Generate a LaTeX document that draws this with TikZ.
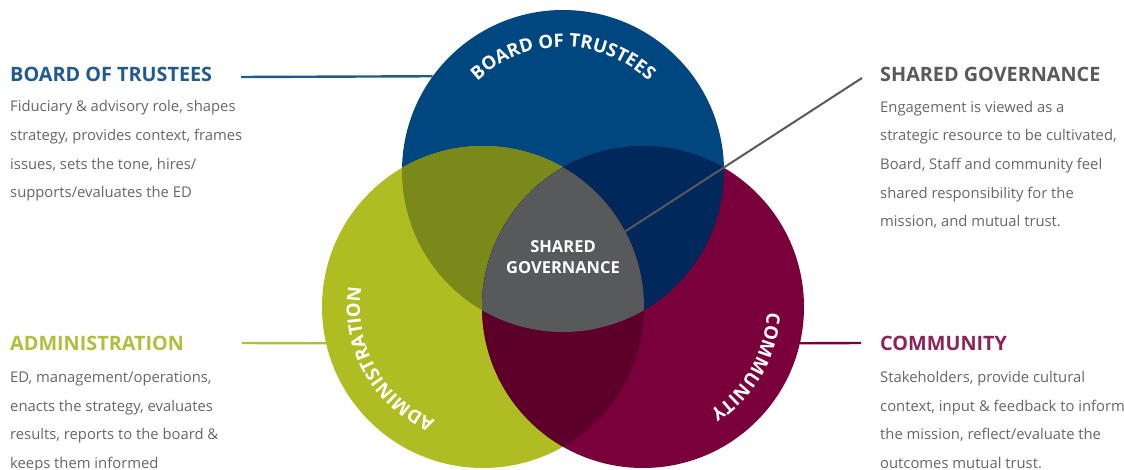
\documentclass[tikz,border=0pt]{standalone}
\usepackage{fontspec}
\setmainfont{Open Sans}
\usetikzlibrary{decorations.text}

\definecolor{boardblue}{HTML}{00467F}
\definecolor{admingreen}{HTML}{AFBD22}
\definecolor{commpurple}{HTML}{7A003C}
\definecolor{olivemix}{HTML}{7A891A}
\definecolor{navymix}{HTML}{00285A}
\definecolor{winemix}{HTML}{5C002B}
\definecolor{sharedgray}{HTML}{58595B}
\definecolor{boardhead}{HTML}{22598F}
\definecolor{adminhead}{HTML}{B0BE3C}
\definecolor{commhead}{HTML}{8C2257}
\definecolor{bodygray}{HTML}{666666}

\newcommand{\arcfont}{\fontsize{18.5}{18.5}\selectfont\bfseries}

\begin{document}
\begin{tikzpicture}[x=1pt, y=1pt]
    \tikzstyle{ring} = [circle, minimum size=322pt, inner sep=0pt]
    \tikzstyle{heading} = [anchor=base west, inner sep=0pt, font=\fontsize{19.8}{24}\selectfont\bfseries]
    % multi-line blurbs sit on the baseline of their last line
    \tikzstyle{blurb} = [anchor=base west, inner sep=0pt, align=left, text=bodygray, font=\fontsize{14.8}{28.7}\selectfont]
    \tikzstyle{lead} = [draw, line width=2.4pt]
    \tikzstyle{arclabel} = [decorate, decoration={text along path, text color=white, text align=center}]

    \useasboundingbox (0,0) rectangle (1124,469);

    % the three circles
    \node [ring, fill=boardblue] (board) at (563,298) {};
    \node [ring, fill=admingreen] (admin) at (483,162) {};
    \node [ring, fill=commpurple] (community) at (643,162) {};

    % overlaps
    \begin{scope}
        \clip (board.center) circle (161);
        \fill [olivemix] (admin.center) circle (161);
        \fill [navymix] (community.center) circle (161);
    \end{scope}
    \begin{scope}
        \clip (admin.center) circle (161);
        \fill [winemix] (community.center) circle (161);
        \clip (board.center) circle (161);
        \fill [sharedgray] (community.center) circle (161);
    \end{scope}

    \node [align=center, text=white, font=\fontsize{16.5}{21.5}\selectfont\bfseries] (sgcenter) at (563,212) {SHARED\\GOVERNANCE};

    % curved labels
    \path [arclabel, decoration={text={|\arcfont|BOARD OF TRUSTEES}}] ([shift={(150:124)}]board.center) arc [start angle=150, end angle=30, radius=124];
    \path [arclabel, decoration={text={|\arcfont|ADMINISTRATION}}] ([shift={(265:123)}]admin.center) arc [start angle=265, end angle=153, radius=123];
    \path [arclabel, decoration={text={|\arcfont|COMMUNITY}}] ([shift={(25:124)}]community.center) arc [start angle=25, end angle=-85, radius=124];

    % side texts
    \node [heading, text=boardhead] (bttitle) at (10,387) {BOARD OF TRUSTEES};
    \node [blurb] (btbody) at (10,271) {Fiduciary \& advisory role, shapes\\strategy, provides context, frames\\issues, sets the tone, hires/\\supports/evaluates the ED};

    \node [heading, text=sharedgray] (sgtitle) at (880,387) {SHARED GOVERNANCE};
    \node [blurb] (sgbody) at (880,242) {Engagement is viewed as a\\strategic resource to be cultivated,\\Board, Staff and community feel\\shared responsibility for the\\mission, and mutual trust.};

    \node [heading, text=adminhead] (admtitle) at (10,119) {ADMINISTRATION};
    \node [blurb] (admbody) at (10,0.5) {ED, management/operations,\\enacts the strategy, evaluates\\results, reports to the board \&\\keeps them informed};

    \node [heading, text=commhead] (commtitle) at (880,119) {COMMUNITY};
    \node [blurb] (commbody) at (880,0.5) {Stakeholders, provide cultural\\context, input \& feedback to inform\\the mission, reflect/evaluate the\\outcomes mutual trust.};

    % leader lines
    \coordinate (btlead) at (241,392);
    \coordinate (admlead) at (242,126);
    \coordinate (commlead) at (861,126);
    \coordinate (sglead) at (862,391);

    \path [lead, boardhead] (btlead) -- (board.144);
    \path [lead, adminhead] (admlead) -- (admin.193);
    \path [lead, commpurple] (community.-13) -- (commlead);
    \path [lead, sharedgray, line width=2pt] (admin.28) -- (sglead);
\end{tikzpicture}
\end{document}
